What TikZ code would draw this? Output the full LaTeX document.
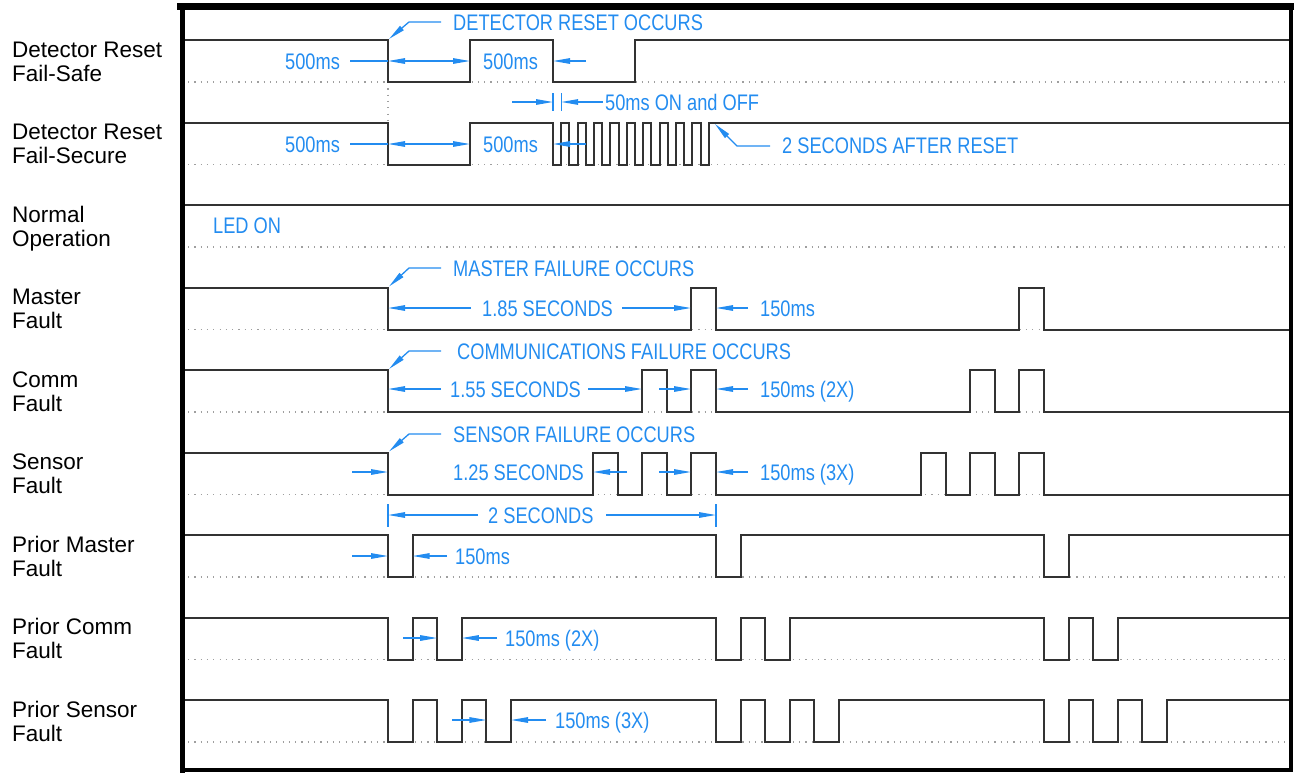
\documentclass[tikz,border=0pt]{standalone}
\usepackage{fontspec}
\setmainfont{Liberation Sans}
\newfontfamily\cadfont[FakeStretch=0.81]{Liberation Sans}
\usetikzlibrary{arrows.meta}
\definecolor{dimblue}{RGB}{35,140,240}
\definecolor{sigcol}{RGB}{50,50,50}
\begin{document}
\begin{tikzpicture}[x=1pt,y=-1pt,
  sig/.style={draw=sigcol,line width=2pt,line join=miter},
  baseln/.style={draw=gray!75,line width=1.2pt,dash pattern=on 1.2pt off 5.1pt},
  dim/.style={draw=dimblue,line width=1.3pt},
  tipend/.style={dim,-{Triangle[length=17pt,width=5.5pt]}},
  tipboth/.style={dim,{Triangle[length=17pt,width=5.5pt]}-{Triangle[length=17pt,width=5.5pt]}},
  lbl/.style={anchor=base west,inner sep=0pt,font=\fontsize{22.5}{24}\selectfont,text=black},
  note/.style={anchor=base west,inner sep=0pt,font=\cadfont\fontsize{22.5}{24}\selectfont,text=dimblue},
  frame/.style={draw=black,line cap=rect}]
\useasboundingbox (0,0) rectangle (1294,772);

% frame
\draw[frame,line width=7pt] (180,6.5) -- (1294,6.5);
\draw[frame,line width=5pt] (182.5,6.5) -- (182.5,770);
\draw[frame,line width=4pt] (1291,6.5) -- (1291,770);
\draw[frame,line width=4pt] (182.5,770) -- (1291,770);

% dotted baselines
\foreach \y in {82,164.5,247,329.5,412,494.5,577,659.5,742}
  \draw[baseln] (188,\y) -- (1289,\y);
\draw[baseln] (388,82) -- (388,122.5);

% row labels
\node[lbl] (l1a) at (12,57) {Detector Reset};
\node[lbl] (l1b) at (12,81) {Fail-Safe};
\node[lbl] (l2a) at (12,139.5) {Detector Reset};
\node[lbl] (l2b) at (12,163.5) {Fail-Secure};
\node[lbl] (l3a) at (12,222) {Normal};
\node[lbl] (l3b) at (12,246) {Operation};
\node[lbl] (l4a) at (12,304.5) {Master};
\node[lbl] (l4b) at (12,328.5) {Fault};
\node[lbl] (l5a) at (12,387) {Comm};
\node[lbl] (l5b) at (12,411) {Fault};
\node[lbl] (l6a) at (12,469.5) {Sensor};
\node[lbl] (l6b) at (12,493.5) {Fault};
\node[lbl] (l7a) at (12,552) {Prior Master};
\node[lbl] (l7b) at (12,576) {Fault};
\node[lbl] (l8a) at (12,634.5) {Prior Comm};
\node[lbl] (l8b) at (12,658.5) {Fault};
\node[lbl] (l9a) at (12,717) {Prior Sensor};
\node[lbl] (l9b) at (12,741) {Fault};

% signals
\draw[sig] (185,40) -| (388,82) -| (470,40) -| (553,82) -| (635,40) -- (1289,40);
\draw[sig] (185,122.5) -| (388,164.5) -| (470,122.5) -| (553,164.5)
  \foreach \k in {0,...,8} { -| ({561.2+16.4*\k},122.5) -| ({569.4+16.4*\k},164.5) }
  -| (708.8,122.5) -- (1289,122.5);
\draw[sig] (185,205) -- (1289,205);
\draw[sig] (185,287.5) -| (388,329.5) -| (691,287.5) -| (716,329.5) -| (1019,287.5) -| (1044,329.5) -- (1289,329.5);
\draw[sig] (185,370) -| (388,412) -| (642,370) -| (667,412) -| (691,370) -| (716,412)
  -| (970,370) -| (995,412) -| (1019,370) -| (1044,412) -- (1289,412);
\draw[sig] (185,452.5) -| (388,494.5) -| (593,452.5) -| (618,494.5) -| (642,452.5) -| (667,494.5) -| (691,452.5) -| (716,494.5)
  -| (921,452.5) -| (946,494.5) -| (970,452.5) -| (995,494.5) -| (1019,452.5) -| (1044,494.5) -- (1289,494.5);
\draw[sig] (185,535) -| (388,577) -| (412.6,535) -| (716,577) -| (740.6,535) -| (1044,577) -| (1068.6,535) -- (1289,535);
\draw[sig] (185,617.5) -| (388,659.5) -| (412.6,617.5) -| (437.2,659.5) -| (461.8,617.5)
  -| (716,659.5) -| (740.6,617.5) -| (765.2,659.5) -| (789.8,617.5)
  -| (1044,659.5) -| (1068.6,617.5) -| (1093.2,659.5) -| (1117.8,617.5) -- (1289,617.5);
\draw[sig] (185,700) -| (388,742) -| (412.6,700) -| (437.2,742) -| (461.8,700) -| (486.4,742) -| (511,700)
  -| (716,742) -| (740.6,700) -| (765.2,742) -| (789.8,700) -| (814.4,742) -| (839,700)
  -| (1044,742) -| (1068.6,700) -| (1093.2,742) -| (1117.8,700) -| (1142.4,742) -| (1167,700) -- (1289,700);

% ---- annotations ----
% detector reset
\node[note] (n1) at (453,30) {DETECTOR RESET OCCURS};
\draw[tipend] (441,22) -- (409,22) -- (389,39);
\node[note] (n2) at (285,69) {500ms};
\draw[dim] (350,61) -- (388,61);
\draw[tipboth] (388,61) -- (470,61);
\node[note] (n3) at (483,69) {500ms};
\draw[tipend] (586,61) -- (553,61);

\draw[dim] (553,93) -- (553,111);
\draw[dim] (561.2,93) -- (561.2,111);
\draw[tipend] (512,102) -- (553,102);
\draw[tipend] (603,102) -- (561.2,102);
\node[note] (n4) at (605,110) {50ms ON and OFF};

\node[note] (n5) at (285,152) {500ms};
\draw[dim] (350,144) -- (388,144);
\draw[tipboth] (388,144) -- (470,144);
\node[note] (n6) at (483,152) {500ms};
\draw[tipend] (586,144) -- (553,144);
\node[note] (n7) at (782,153) {2 SECONDS AFTER RESET};
\draw[tipend] (770,146) -- (737,146) -- (715,124);

\node[note] (n8) at (213,233) {LED ON};

% master
\node[note] (n9) at (453,276) {MASTER FAILURE OCCURS};
\draw[tipend] (441,268) -- (409,268) -- (389,286.5);
\draw[tipend] (471,308) -- (388,308);
\node[note] (n10) at (482,316) {1.85 SECONDS};
\draw[tipend] (622,308) -- (691,308);
\draw[tipend] (748,308) -- (716,308);
\node[note] (n11) at (760,316) {150ms};

% comm
\node[note] (n12) at (457,359) {COMMUNICATIONS FAILURE OCCURS};
\draw[tipend] (441,351) -- (409,351) -- (389,369);
\draw[tipend] (441,389) -- (388,389);
\node[note] (n13) at (450,397) {1.55 SECONDS};
\draw[tipend] (588,389) -- (642,389);
\draw[tipend] (659,389) -- (691,389);
\draw[tipend] (748,389) -- (716,389);
\node[note] (n14) at (760,397) {150ms (2X)};

% sensor
\node[note] (n15) at (453,442) {SENSOR FAILURE OCCURS};
\draw[tipend] (441,434) -- (409,434) -- (389,451.5);
\draw[tipend] (352,472) -- (388,472);
\node[note] (n16) at (453,480) {1.25 SECONDS};
\draw[tipend] (627,472) -- (593,472);
\draw[tipend] (659,472) -- (691,472);
\draw[tipend] (748,472) -- (716,472);
\node[note] (n17) at (760,480) {150ms (3X)};

% 2 seconds
\draw[dim] (388,504) -- (388,527);
\draw[dim] (716,504) -- (716,527);
\draw[tipend] (478,515) -- (388,515);
\draw[tipend] (606,515) -- (716,515);
\node[note] (n18) at (488,523) {2 SECONDS};

% prior master
\draw[tipend] (352,556) -- (388,556);
\draw[tipend] (447,556) -- (412.6,556);
\node[note] (n19) at (455,564) {150ms};

% prior comm
\draw[tipend] (403,638) -- (437.2,638);
\draw[tipend] (497,638) -- (461.8,638);
\node[note] (n20) at (505,646) {150ms (2X)};

% prior sensor
\draw[tipend] (452,720) -- (486.4,720);
\draw[tipend] (546,720) -- (511,720);
\node[note] (n21) at (555,728) {150ms (3X)};
\end{tikzpicture}
\end{document}
